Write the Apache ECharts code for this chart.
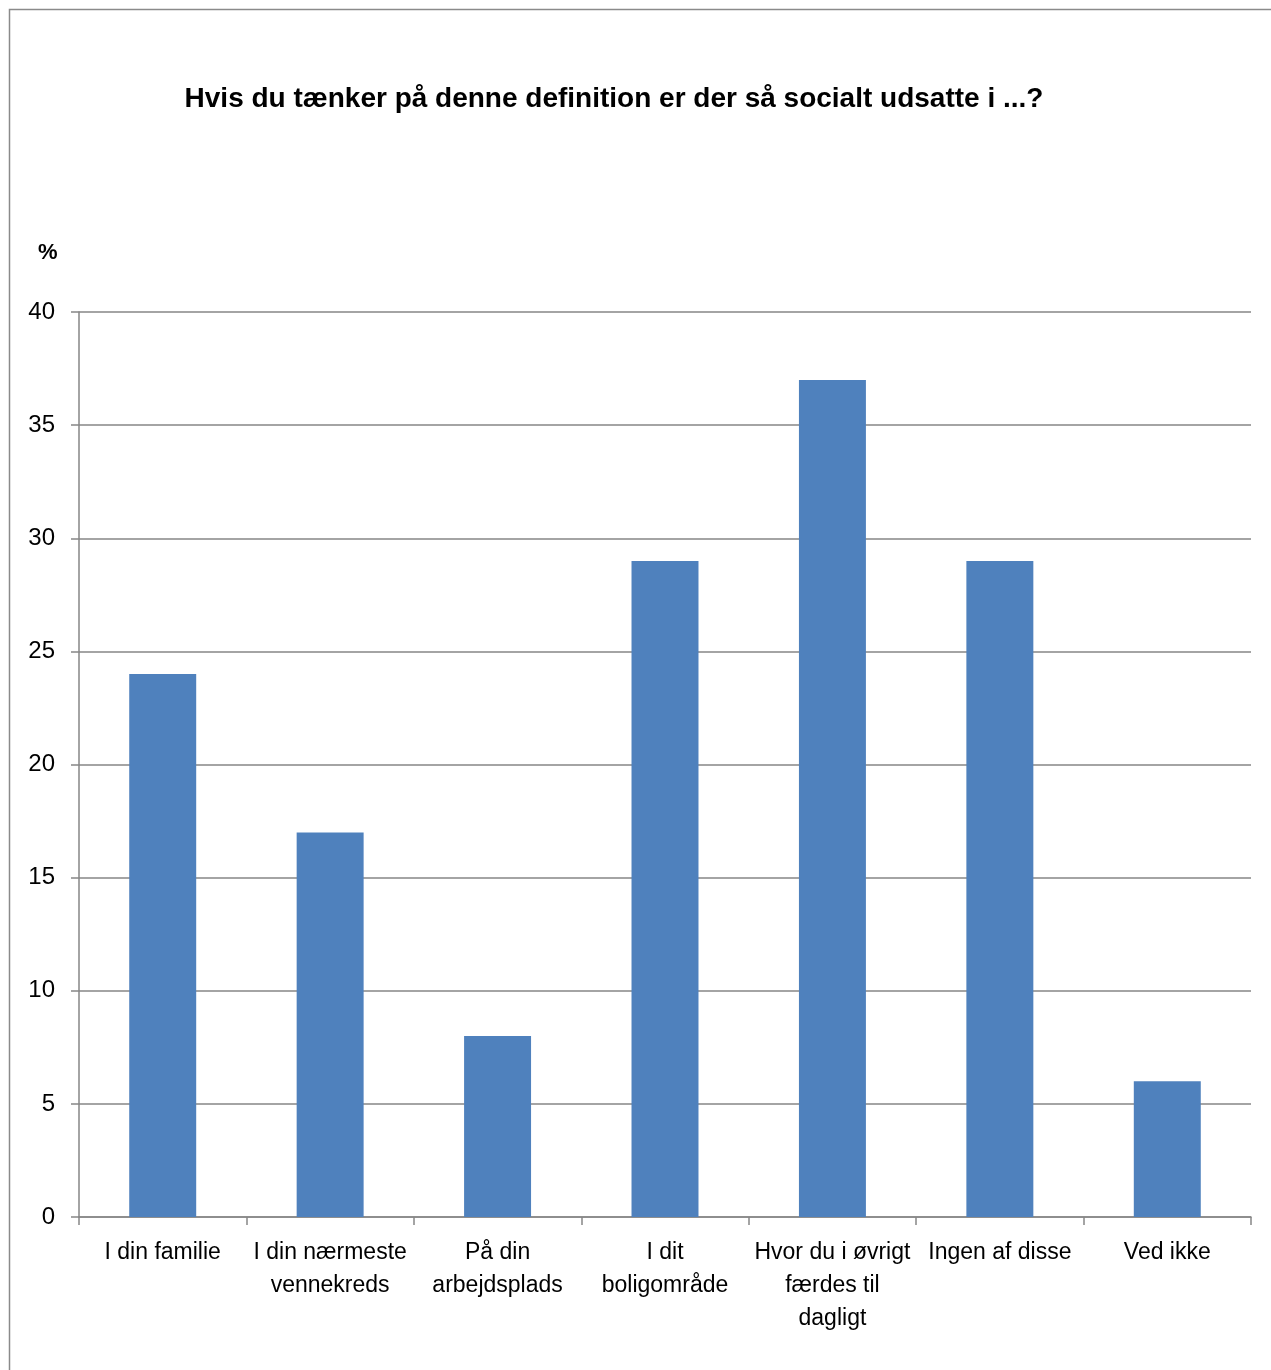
<!DOCTYPE html>
<html>
<head>
<meta charset="utf-8">
<script src="https://cdn.jsdelivr.net/npm/echarts@6/dist/echarts.min.js"></script>
<style>
html,body{margin:0;padding:0;background:#fff;}
#chart{width:1271px;height:1370px;}
</style>
</head>
<body>
<div id="chart"></div>
<script>
const titleText = 'Hvis du tænker på denne definition er der så socialt udsatte i ...?';
const yUnit = '%';
const categories = [
  'I din familie',
  'I din nærmeste\nvennekreds',
  'På din\narbejdsplads',
  'I dit\nboligområde',
  'Hvor du i øvrigt\nfærdes til\ndagligt',
  'Ingen af disse',
  'Ved ikke'
];
const values = [24, 17, 8, 29, 37, 29, 6];
const yTicks = [0, 5, 10, 15, 20, 25, 30, 35, 40];

const chart = echarts.init(document.getElementById('chart'), null, {renderer: 'canvas'});
const gray = '#868686';
const font = '"Liberation Sans", Arial, sans-serif';
chart.setOption({
  animation: false,
  backgroundColor: '#fff',
  title: {
    text: titleText,
    left: 609,
    textAlign: 'center',
    top: 80,
    textStyle: {fontFamily: font, fontWeight: 'bold', fontSize: 28, color: '#000'}
  },
  graphic: [
    {type: 'rect', silent: true, z: -1, shape: {x: 9.5, y: 9.5, width: 1400, height: 1500},
     style: {fill: 'none', stroke: '#8a8a8a', lineWidth: 1.5}},
    {type: 'text', left: 38, top: 242, style: {text: yUnit, font: 'bold 22px ' + font, fill: '#000'}}
  ],
  grid: {left: 79, right: 20, top: 312, bottom: 153, containLabel: false},
  xAxis: {
    type: 'category',
    data: categories,
    axisLine: {lineStyle: {color: gray, width: 1.5}},
    axisTick: {show: true, length: 8, lineStyle: {color: gray, width: 1.5}},
    axisLabel: {fontFamily: font, fontSize: 23, color: '#000', margin: 19, lineHeight: 33, interval: 0}
  },
  yAxis: {
    type: 'value',
    min: yTicks[0],
    max: yTicks[yTicks.length - 1],
    interval: yTicks[1] - yTicks[0],
    axisLine: {show: true, lineStyle: {color: gray, width: 1.5}},
    axisTick: {show: true, length: 8, lineStyle: {color: gray, width: 1.5}},
    splitLine: {lineStyle: {color: gray, width: 1.5}},
    axisLabel: {fontFamily: font, fontSize: 24, color: '#000', margin: 24}
  },
  series: [{
    type: 'bar',
    data: values,
    barWidth: '40%',
    itemStyle: {color: '#4F81BD'}
  }]
});
</script>
</body>
</html>
